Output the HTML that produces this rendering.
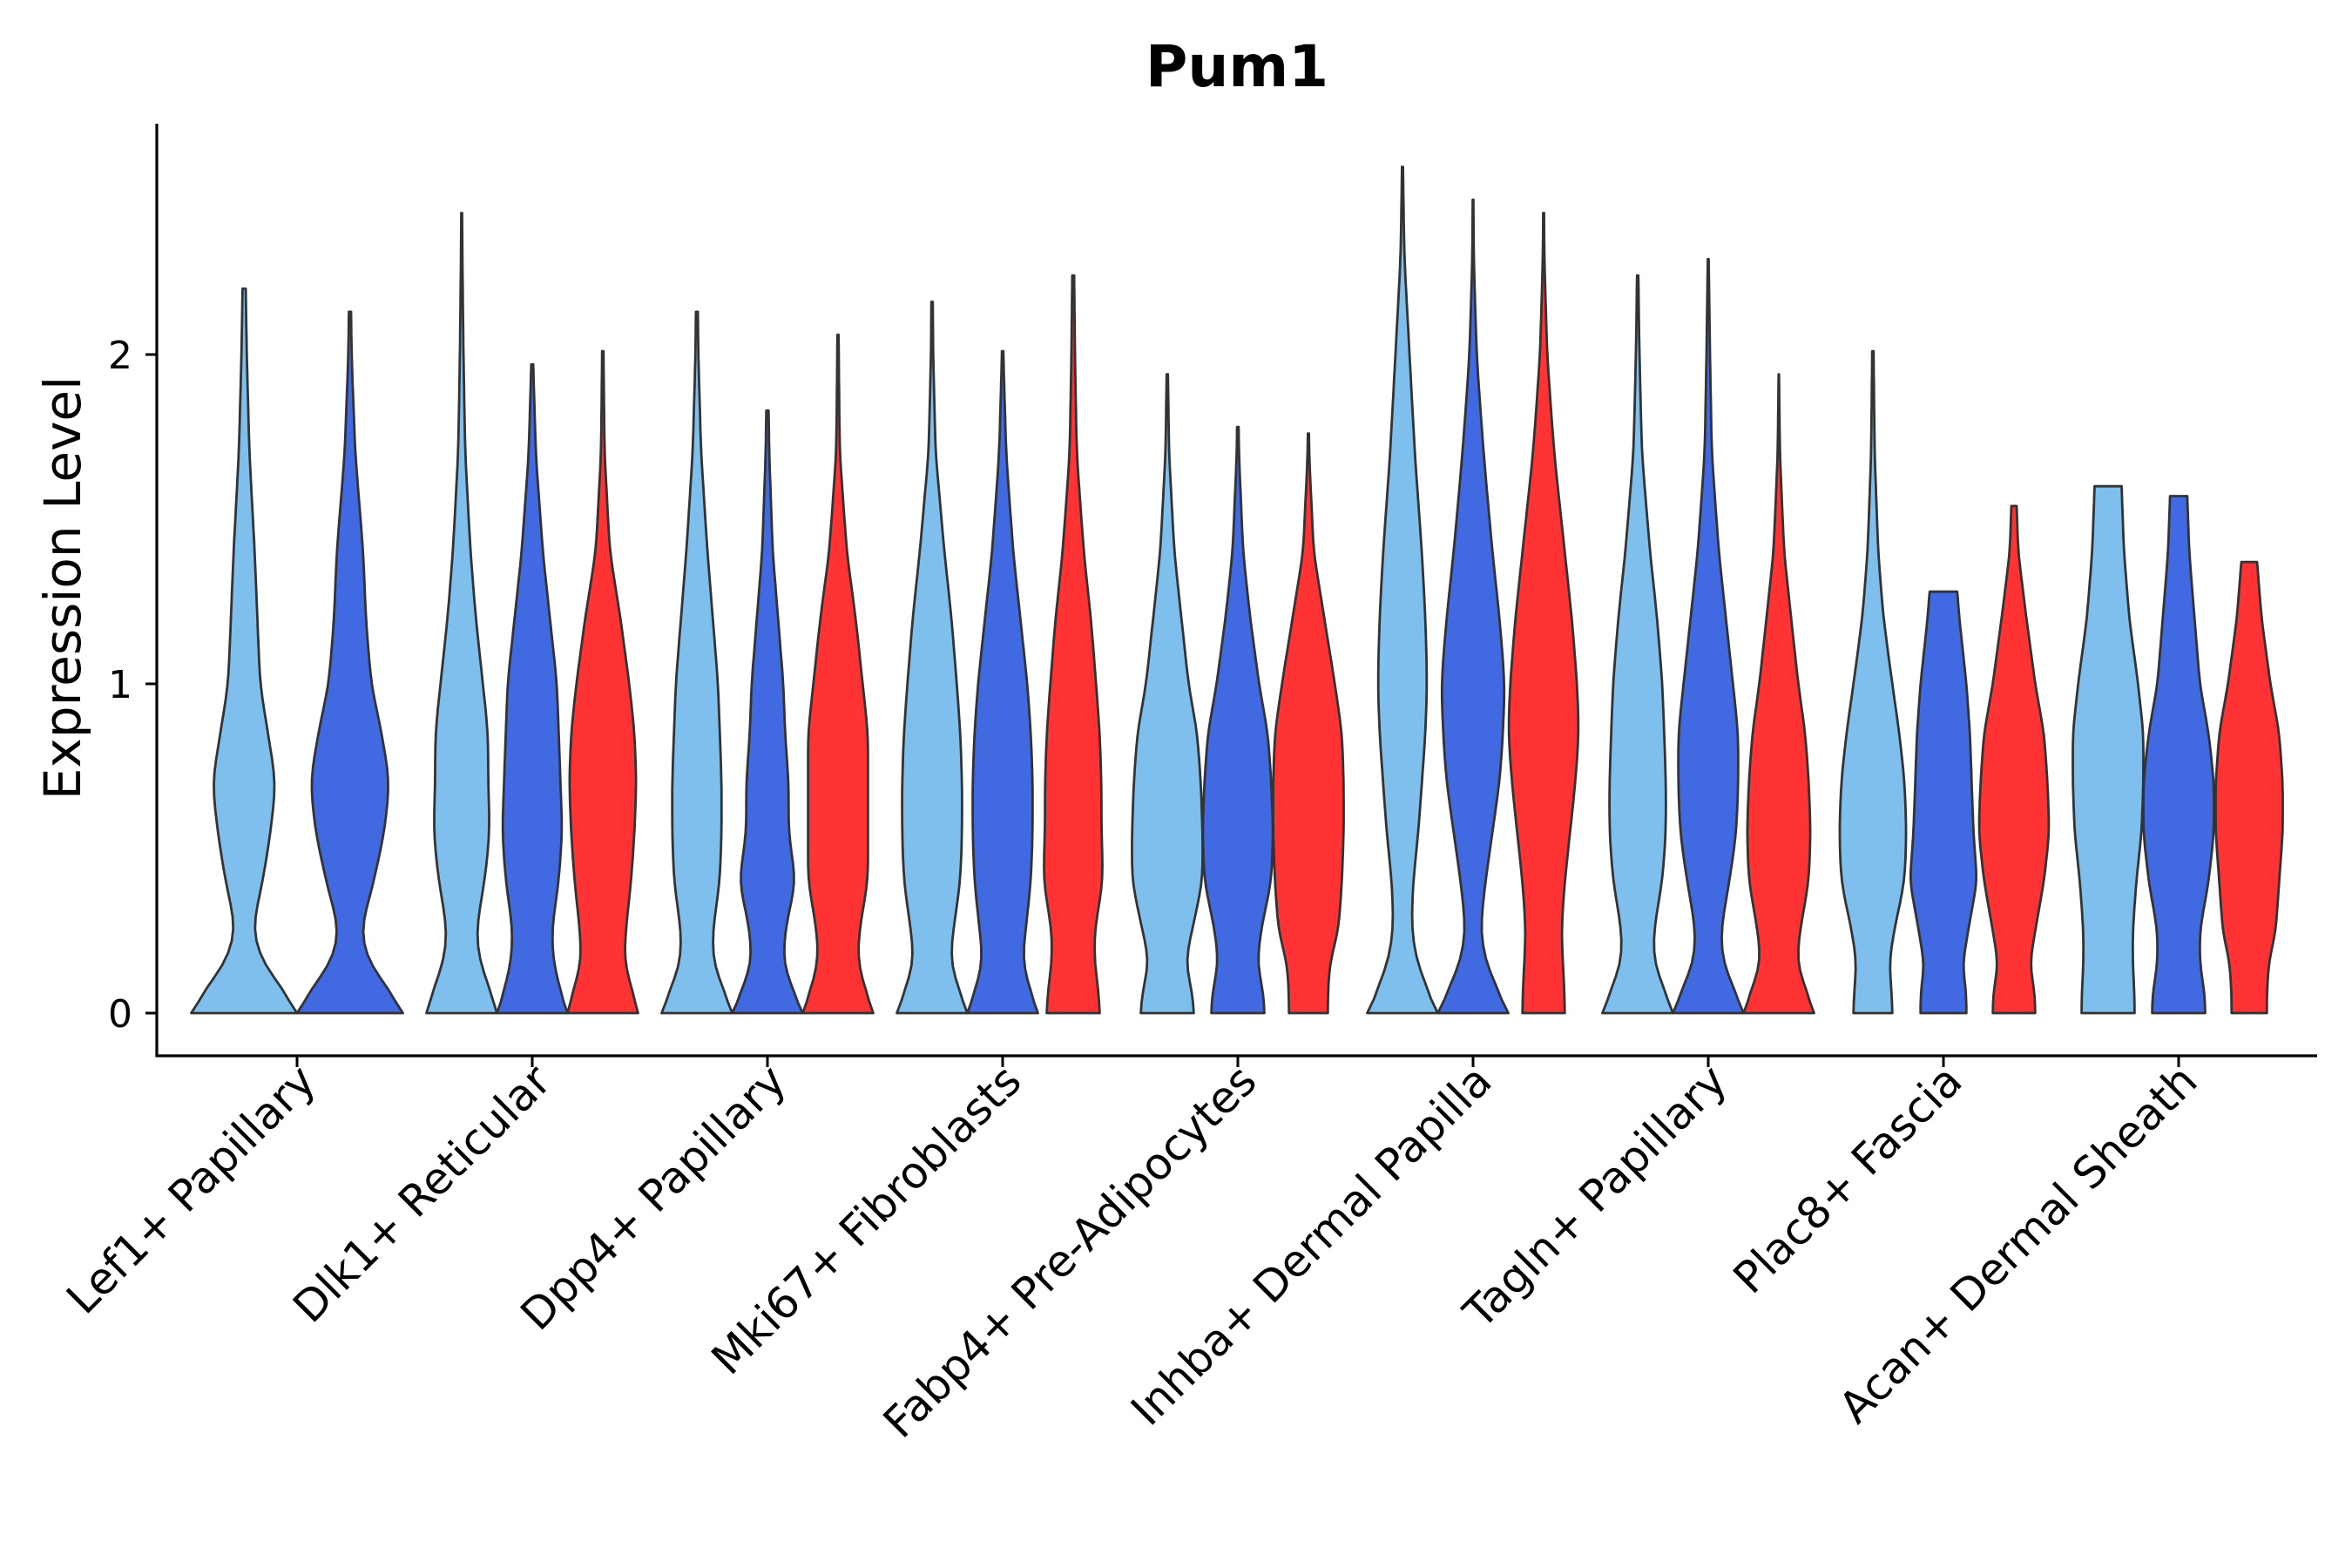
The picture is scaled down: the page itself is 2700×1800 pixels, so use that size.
<!DOCTYPE html>
<html><head><meta charset="utf-8">
<style>
html,body{margin:0;padding:0;background:#fff;}
svg{display:block;font-family:"DejaVu Sans","Liberation Sans",sans-serif;}
</style></head>
<body>
<svg id="chart" width="2700" height="1800" viewBox="0 0 2700 1800" xmlns="http://www.w3.org/2000/svg">
<rect width="2700" height="1800" fill="#fff"/>
<text x="1420" y="99" text-anchor="middle" font-size="66" font-weight="bold">Pum1</text>
<text transform="translate(92,675) rotate(-90)" text-anchor="middle" font-size="58">Expression Level</text>
<g id="plot"></g>
</svg>
<script>
const categories = ["Lef1+ Papillary","Dlk1+ Reticular","Dpp4+ Papillary","Mki67+ Fibroblasts","Fabp4+ Pre-Adipocytes","Inhba+ Dermal Papilla","Tagln+ Papillary","Plac8+ Fascia","Acan+ Dermal Sheath"];
const yTicks = [0,1,2];
const profileYs = [0,0.05,0.15,0.25,0.4,0.55,0.7,0.85,1.0,1.2,1.4,1.7,2.0,2.3,2.6];
const seriesColors = ["#7fbfee","#4169e1","#ff3333"];
const lef1 = [[0,2.2,[1,0.85,0.35,0.15,0.35,0.5,0.6,0.45,0.3,0.25,0.2,0.1,0.05,0.02,0]],[1,2.13,[1,0.85,0.35,0.2,0.45,0.65,0.75,0.6,0.4,0.3,0.25,0.1,0.03,0.01,0]]];
const dlk1 = [[0,2.43,[1,0.9,0.5,0.4,0.65,0.8,0.75,0.75,0.6,0.4,0.25,0.1,0.05,0.02,0]],[1,1.97,[1,0.85,0.6,0.55,0.75,0.85,0.8,0.75,0.7,0.5,0.3,0.1,0.02,0,0]],[2,2.01,[1,0.9,0.6,0.65,0.8,0.9,0.95,0.9,0.75,0.5,0.2,0.05,0.02,0,0]]];
const dpp4 = [[0,2.13,[1,0.85,0.45,0.45,0.65,0.7,0.7,0.65,0.6,0.45,0.3,0.12,0.04,0.01,0]],[1,1.83,[1,0.8,0.45,0.5,0.8,0.6,0.6,0.5,0.45,0.3,0.15,0.05,0.01,0,0]],[2,2.06,[1,0.85,0.55,0.6,0.85,0.85,0.85,0.85,0.7,0.5,0.25,0.05,0.02,0,0]]];
const mki67 = [[0,2.16,[1,0.85,0.5,0.6,0.8,0.85,0.85,0.8,0.7,0.55,0.35,0.1,0.03,0.01,0]],[1,2.01,[1,0.85,0.55,0.65,0.8,0.85,0.85,0.8,0.7,0.5,0.3,0.1,0.02,0,0]],[2,2.24,[0.75,0.75,0.6,0.6,0.85,0.8,0.8,0.75,0.65,0.5,0.3,0.1,0.05,0.02,0]]];
const fabp4 = [[0,1.94,[0.75,0.75,0.5,0.7,1.0,1.0,0.95,0.85,0.6,0.4,0.2,0.05,0.01,0,0]],[1,1.78,[0.75,0.75,0.55,0.65,0.95,1.0,0.95,0.85,0.6,0.35,0.15,0.03,0,0,0]],[2,1.76,[0.55,0.55,0.6,0.85,0.95,1.0,1.0,0.95,0.75,0.45,0.15,0.02,0,0,0]]];
const inhba = [[0,2.57,[1,0.8,0.4,0.25,0.3,0.45,0.55,0.65,0.7,0.65,0.55,0.35,0.2,0.05,0.01]],[1,2.47,[1,0.8,0.35,0.2,0.35,0.55,0.75,0.85,0.9,0.75,0.55,0.3,0.1,0.02,0]],[2,2.43,[0.6,0.6,0.55,0.5,0.6,0.75,0.9,1.0,0.95,0.8,0.6,0.3,0.1,0.02,0]]];
const tagln = [[0,2.24,[1,0.85,0.45,0.45,0.7,0.8,0.8,0.75,0.7,0.55,0.35,0.12,0.05,0.01,0]],[1,2.29,[1,0.85,0.4,0.35,0.6,0.8,0.85,0.85,0.7,0.5,0.3,0.1,0.05,0.01,0]],[2,1.94,[1,0.85,0.5,0.6,0.85,0.9,0.85,0.75,0.55,0.35,0.15,0.03,0,0,0]]];
const plac8 = [[0,2.01,[0.55,0.55,0.45,0.6,0.9,0.95,0.9,0.75,0.55,0.3,0.15,0.05,0.02,0,0]],[1,1.28,[0.65,0.65,0.55,0.7,0.95,0.85,0.8,0.75,0.65,0.45,0.3,0.2,0,0,0]],[2,1.54,[0.6,0.6,0.45,0.6,0.85,1.0,0.95,0.85,0.6,0.35,0.12,0.02,0,0,0]]];
const acan = [[0,1.6,[0.75,0.75,0.7,0.7,0.8,0.95,1.0,1.0,0.85,0.6,0.45,0.35,0,0,0]],[1,1.57,[0.75,0.75,0.6,0.6,0.85,1.0,1.0,0.85,0.6,0.45,0.3,0.2,0,0,0]],[2,1.37,[0.5,0.5,0.55,0.75,0.85,0.95,0.95,0.85,0.6,0.35,0.2,0.1,0,0,0]]];
const violinData = [lef1,dlk1,dpp4,mki67,fabp4,inhba,tagln,plac8,acan];

const NS="http://www.w3.org/2000/svg";
const g=document.getElementById('plot');
const X0=180, X1=2660, Y0=142, YB=1212;
const catStep=270, cat0=341;
function xCat(i){return cat0+i*catStep;}
function yVal(v){return 1163 - v*378;}
function mk(tag,attrs){const e=document.createElementNS(NS,tag);for(const k in attrs)e.setAttribute(k,attrs[k]);g.appendChild(e);return e;}
function interp(ws,y){
  for(let i=0;i<profileYs.length-1;i++){
    if(y<=profileYs[i+1]){const t=(y-profileYs[i])/(profileYs[i+1]-profileYs[i]);return ws[i]+(ws[i+1]-ws[i])*t;}
  }
  return ws[ws.length-1];
}
function smoothPts(ws,ymax){
  const pts=[];const N=60;
  for(let k=0;k<=N;k++){const y=ymax*k/N;pts.push([y,interp(ws,y)]);}
  const sm=pts.map((p,i)=>{if(i===0||i===pts.length-1)return p;const a=pts[Math.max(0,i-2)][1],b=pts[i-1][1],c=p[1],d=pts[i+1][1],e=pts[Math.min(pts.length-1,i+2)][1];return [p[0],(a+2*b+3*c+2*d+e)/9];});
  return sm;
}
violinData.forEach((vs,ci)=>{
  const n=vs.length;
  const dodge=0.9*catStep/n;
  const half=dodge/2;
  vs.forEach((v,j)=>{
    const cx=xCat(ci)-0.45*catStep+dodge*(j+0.5);
    const pts=smoothPts(v[2],v[1]);
    let d='M'+(cx-pts[0][1]*half).toFixed(1)+','+yVal(0).toFixed(1);
    pts.forEach(p=>{d+='L'+(cx-p[1]*half).toFixed(1)+','+yVal(p[0]).toFixed(1);});
    for(let k=pts.length-1;k>=0;k--){const p=pts[k];d+='L'+(cx+p[1]*half).toFixed(1)+','+yVal(p[0]).toFixed(1);}
    d+='Z';
    const path=mk('path',{d:d,fill:seriesColors[v[0]],stroke:'#333','stroke-width':2.8,'stroke-linejoin':'round'});
    
    
  });
});
const ya=mk('line',{x1:X0,y1:Y0,x2:X0,y2:YB,stroke:'#000','stroke-width':3.2});


const xa=mk('line',{x1:X0-1.6,y1:YB,x2:X1,y2:YB,stroke:'#000','stroke-width':3.2});


yTicks.forEach(t=>{
  const tk=mk('line',{x1:X0-13,y1:yVal(t),x2:X0,y2:yVal(t),stroke:'#000','stroke-width':3});
  
  
  const tl=mk('text',{x:X0-28,y:yVal(t)+16,'text-anchor':'end','font-size':44,fill:'#000'});
  tl.textContent=t;
  
  
});
categories.forEach((c,i)=>{
  const x=xCat(i);
  const tk=mk('line',{x1:x,y1:YB,x2:x,y2:YB+13,stroke:'#000','stroke-width':3});
  
  
  const tl=mk('text',{transform:'translate('+(x+24)+','+(YB+32)+') rotate(-45)','text-anchor':'end','font-size':50,fill:'#000'});
  tl.textContent=c;
  
  
});
</script>
</body></html>
